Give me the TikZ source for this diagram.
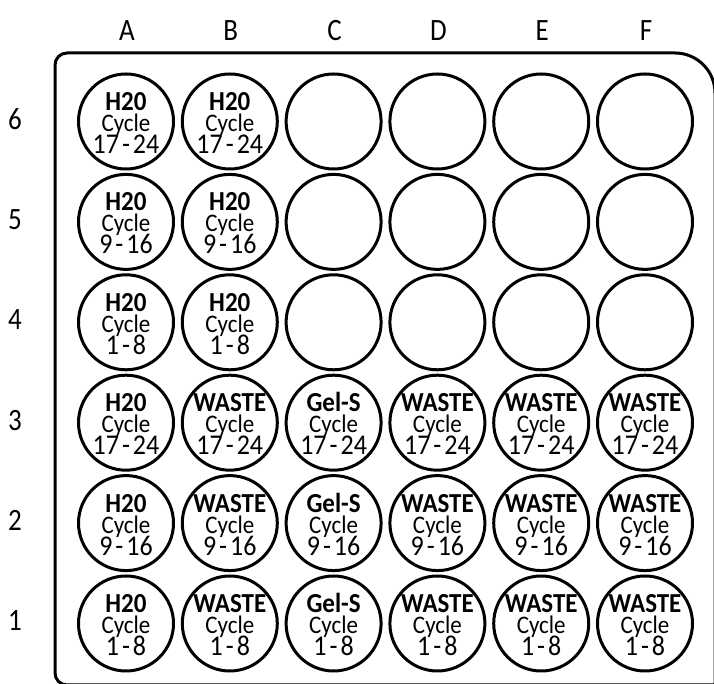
\documentclass[tikz,border=0pt]{standalone}
\usepackage{fontspec}
\setmainfont{Carlito}
\tikzset{
  plate/.style={line width=3pt, line join=round},
  well/.style={circle, draw, line width=3pt, minimum size=95pt, inner sep=0pt},
  wtext/.style={anchor=base, inner sep=0pt, transform shape, yscale=1.1},
  wtitle/.style={wtext, font=\fontsize{25}{25}\selectfont\bfseries},
  wcycle/.style={wtext, font=\fontsize{23}{23}\selectfont},
  wnum/.style={wtext, font=\fontsize{26}{26}\selectfont},
  axislabel/.style={inner sep=0pt, transform shape, yscale=1.15, font=\fontsize{27}{27}\selectfont},
}
\newcommand\dsh{\kern3pt-\kern3pt}
\begin{document}
\begin{tikzpicture}[x=1pt,y=1pt]
\useasboundingbox (0,0) rectangle (714,684);
\begin{scope}
\clip (0,0) rectangle (714,684);
\draw[plate] (730,-1) -- (67,-1) arc(270:180:12) -- (55,619) arc(180:90:12) -- (675,631) arc(90:0:40) -- (715,-10);
\end{scope}
% wells
\foreach \c [count=\i from 0] in {A,B,C,D,E,F}{
  \foreach \r in {1,...,6}{
    \node[well] (w\c\r) at ({126+103.8*\i},{562.5-100.4*(6-\r)}) {};
  }
  \node[axislabel] (col\c) at ({127+103.8*\i},653) {\c};
}
\foreach \r in {1,...,6}{
  \node[axislabel] (row\r) at (15,{565-100.4*(6-\r)}) {\r};
}
% contents
\foreach \c/\r/\t/\n in {
  A/6/H20/17\dsh24, B/6/H20/17\dsh24,
  A/5/H20/9\dsh16, B/5/H20/9\dsh16,
  A/4/H20/1\dsh8, B/4/H20/1\dsh8,
  A/3/H20/17\dsh24, B/3/WASTE/17\dsh24, C/3/Gel-S/17\dsh24, D/3/WASTE/17\dsh24, E/3/WASTE/17\dsh24, F/3/WASTE/17\dsh24,
  A/2/H20/9\dsh16, B/2/WASTE/9\dsh16, C/2/Gel-S/9\dsh16, D/2/WASTE/9\dsh16, E/2/WASTE/9\dsh16, F/2/WASTE/9\dsh16,
  A/1/H20/1\dsh8, B/1/WASTE/1\dsh8, C/1/Gel-S/1\dsh8, D/1/WASTE/1\dsh8, E/1/WASTE/1\dsh8, F/1/WASTE/1\dsh8}{
  \node[wtitle] (t\c\r) at ([yshift=11pt]w\c\r.center) {\t};
  \node[wcycle] (y\c\r) at ([yshift=-10pt]w\c\r.center) {Cycle};
  \node[wnum] (n\c\r) at ([yshift=-32pt]w\c\r.center) {\n};
}
\end{tikzpicture}
\end{document}
